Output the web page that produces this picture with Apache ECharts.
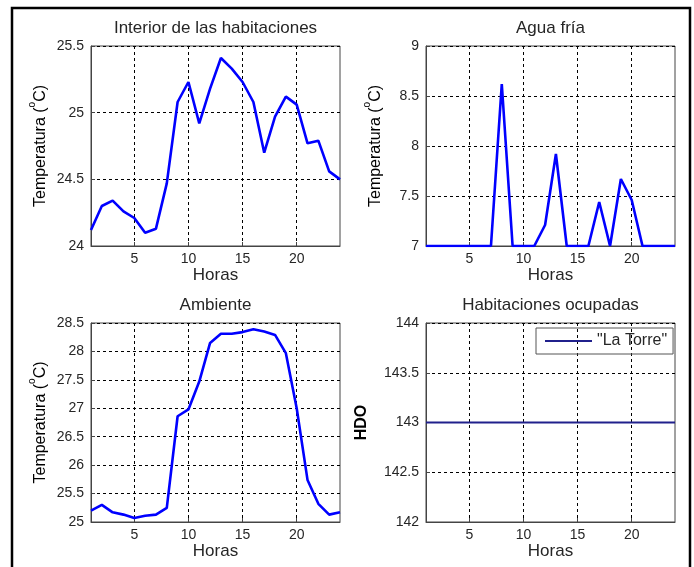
<!DOCTYPE html>
<html>
<head>
<meta charset="utf-8">
<script src="https://cdn.jsdelivr.net/npm/echarts@6/dist/echarts.min.js"></script>
<style>
  html, body { margin: 0; padding: 0; background: #fff; }
  #chart { width: 694px; height: 567px; }
</style>
</head>
<body>
<div id="chart"></div>
<script>
// datos (24 horas)
var horas = ['1','2','3','4','5','6','7','8','9','10','11','12','13','14','15','16','17','18','19','20','21','22','23','24'];
var horasMarcadas = ['5','10','15','20'];

var interior = [24.12,24.30,24.34,24.26,24.21,24.10,24.13,24.47,25.08,25.23,24.92,25.18,
                25.41,25.33,25.23,25.08,24.70,24.97,25.12,25.06,24.77,24.79,24.56,24.50];
var aguaFria = [7,7,7,7,7,7,7,8.62,7,7,7,7.21,7.92,7,7,7,7.44,7,7.67,7.46,7,7,7,7];
var ambiente = [25.20,25.30,25.17,25.13,25.07,25.11,25.13,25.25,26.86,26.98,27.47,28.15,
                28.31,28.31,28.34,28.39,28.35,28.29,27.97,27.00,25.74,25.32,25.13,25.17];
var ocupadas = [143,143,143,143,143,143,143,143,143,143,143,143,
                143,143,143,143,143,143,143,143,143,143,143,143];

var titulos = ['Interior de las habitaciones', 'Agua fría', 'Ambiente', 'Habitaciones ocupadas'];
var ejeY = [
    {min: 24, max: 25.5},
    {min: 7, max: 9},
    {min: 25, max: 28.5},
    {min: 142, max: 144}
];

var fuente = 'Liberation Sans, Arial, sans-serif';
var colorTexto = '#262626';

// posicion de cada grafica
var grids = [
    {left: 91, top: 46, width: 249, height: 200},
    {left: 426, top: 46, width: 249, height: 200},
    {left: 91, top: 323, width: 249, height: 199},
    {left: 426, top: 323, width: 249, height: 199}
];

function marcada(index, value) {
    return horasMarcadas.indexOf(value) >= 0;
}

var lineaRejilla = {
    show: true,
    interval: marcada,
    lineStyle: {color: '#000', width: 1, type: [3, 3]}
};

var opcion = {
    backgroundColor: '#fff',
    animation: false,
    title: [],
    grid: [],
    xAxis: [],
    yAxis: [],
    series: [],
    legend: {
        left: 536,
        top: 328,
        padding: [5, 6, 5, 9],
        borderColor: '#555',
        borderWidth: 1,
        icon: 'rect',
        itemWidth: 47,
        itemHeight: 2,
        itemGap: 5,
        data: ['"La Torre"'],
        textStyle: {fontFamily: fuente, fontSize: 16, color: colorTexto, lineHeight: 14}
    },
    graphic: [{
        type: 'rect',
        shape: {x: 12, y: 8, width: 678, height: 590},
        style: {fill: 'none', stroke: '#000', lineWidth: 2.5},
        silent: true
    }]
};

for (var i = 0; i < 4; i++) {
    var g = grids[i];
    opcion.grid.push({
        left: g.left, top: g.top, width: g.width, height: g.height,
        show: true, borderColor: '#444', borderWidth: 1, backgroundColor: '#fff'
    });
    opcion.title.push({
        text: titulos[i],
        left: g.left + g.width / 2,
        top: g.top - 26,
        textAlign: 'center',
        padding: 0,
        textStyle: {fontFamily: fuente, fontSize: 17, fontWeight: 'normal', color: colorTexto}
    });
    opcion.xAxis.push({
        type: 'category',
        gridIndex: i,
        data: horas,
        boundaryGap: false,
        name: 'Horas',
        nameLocation: 'middle',
        nameGap: 21,
        nameTextStyle: {fontFamily: fuente, fontSize: 17, color: colorTexto},
        axisLine: {show: true, lineStyle: {color: '#444'}},
        axisTick: {show: true, inside: true, length: 4, interval: marcada, lineStyle: {color: '#444'}},
        axisLabel: {interval: marcada, margin: 6, fontFamily: fuente, fontSize: 14, color: colorTexto},
        splitLine: lineaRejilla
    });
    var yName, yNameStyle;
    if (i < 3) {
        // la "o" va como superindice
        yName = '{a|Temperatura (}{s|o}{a|C)}';
        yNameStyle = {
            fontFamily: fuente, fontSize: 16, color: '#000',
            rich: {
                a: {fontFamily: fuente, fontSize: 16, color: '#000', lineHeight: 22, verticalAlign: 'bottom'},
                s: {fontFamily: fuente, fontSize: 10, color: '#000', lineHeight: 10, verticalAlign: 'top'}
            }
        };
    } else {
        yName = 'HDO';
        yNameStyle = {fontFamily: fuente, fontSize: 16, fontWeight: 'bold', color: '#000'};
    }
    opcion.yAxis.push({
        type: 'value',
        gridIndex: i,
        min: ejeY[i].min,
        max: ejeY[i].max,
        interval: 0.5,
        name: yName,
        nameLocation: 'middle',
        nameGap: i < 3 ? 42 : 56,
        nameTextStyle: yNameStyle,
        axisLine: {show: true, lineStyle: {color: '#444'}},
        axisTick: {show: true, inside: true, length: 4, lineStyle: {color: '#444'}},
        axisLabel: {margin: 7, fontFamily: fuente, fontSize: 14, color: colorTexto},
        splitLine: {show: true, lineStyle: {color: '#000', width: 1, type: [3, 3]}}
    });
}

var datos = [interior, aguaFria, ambiente, ocupadas];
for (var j = 0; j < 4; j++) {
    opcion.series.push({
        name: j === 3 ? '"La Torre"' : titulos[j],
        type: 'line',
        xAxisIndex: j,
        yAxisIndex: j,
        data: datos[j],
        symbol: 'none',
        showSymbol: false,
        lineStyle: j === 3 ? {color: '#20208c', width: 2} : {color: '#0000ff', width: 2.6},
        itemStyle: {color: j === 3 ? '#20208c' : '#0000ff'}
    });
}

var grafica = echarts.init(document.getElementById('chart'), null, {renderer: 'canvas'});
grafica.setOption(opcion);
</script>
</body>
</html>
